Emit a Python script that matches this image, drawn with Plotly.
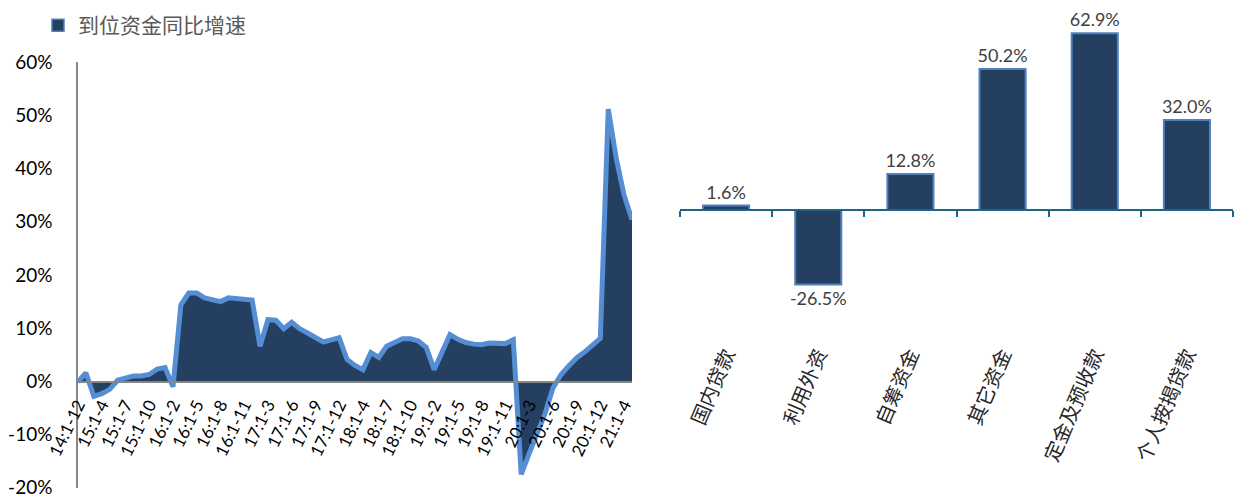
import plotly.graph_objects as go

# ---------------- data ----------------
months = [
    "14:1-12",
    "15:1-2", "15:1-3", "15:1-4", "15:1-5", "15:1-6", "15:1-7", "15:1-8", "15:1-9", "15:1-10", "15:1-11", "15:1-12",
    "16:1-2", "16:1-3", "16:1-4", "16:1-5", "16:1-6", "16:1-7", "16:1-8", "16:1-9", "16:1-10", "16:1-11", "16:1-12",
    "17:1-2", "17:1-3", "17:1-4", "17:1-5", "17:1-6", "17:1-7", "17:1-8", "17:1-9", "17:1-10", "17:1-11", "17:1-12",
    "18:1-2", "18:1-3", "18:1-4", "18:1-5", "18:1-6", "18:1-7", "18:1-8", "18:1-9", "18:1-10", "18:1-11", "18:1-12",
    "19:1-2", "19:1-3", "19:1-4", "19:1-5", "19:1-6", "19:1-7", "19:1-8", "19:1-9", "19:1-10", "19:1-11", "19:1-12",
    "20:1-2", "20:1-3", "20:1-4", "20:1-5", "20:1-6", "20:1-7", "20:1-8", "20:1-9", "20:1-10", "20:1-11", "20:1-12",
    "21:1-2", "21:1-3", "21:1-4", "21:1-5",
]
funds_yoy = [
    -0.1,
    1.6, -2.8, -2.3, -1.5, 0.2, 0.6, 1.0, 1.0, 1.3, 2.3, 2.6,
    -1.0, 14.4, 16.6, 16.6, 15.7, 15.4, 15.0, 15.7, 15.5, 15.3, 15.3,
    6.6, 11.6, 11.5, 9.9, 11.1, 9.9, 9.1, 8.2, 7.4, 7.8, 8.2,
    4.1, 3.0, 2.2, 5.4, 4.5, 6.6, 7.3, 8.0, 8.0, 7.6, 6.4,
    2.2, 5.5, 8.8, 7.9, 7.3, 7.0, 6.9, 7.2, 7.1, 7.1, 7.8,
    -17.5, -13.6, -10.0, -6.1, -1.3, 1.2, 2.9, 4.4, 5.5, 6.7, 8.1,
    51.2, 42.0, 35.0, 30.4,
]
tick_months = months[0:70:3]
series_name = "到位资金同比增速"
y_tick_vals = [-20, -10, 0, 10, 20, 30, 40, 50, 60]
y_tick_text = ["-20%", "-10%", "0%", "10%", "20%", "30%", "40%", "50%", "60%"]

sources = ["国内贷款", "利用外资", "自筹资金", "其它资金", "定金及预收款", "个人按揭贷款"]
source_yoy = [1.6, -26.5, 12.8, 50.2, 62.9, 32.0]

# ---------------- layout helpers (pixel -> paper) ----------------
W, H = 1234, 497
def py(p):
    return 1 - p / H
def px(p):
    return p / W

NAVY = "#243F60"
LINE_BLUE = "#558ED5"
BAR_EDGE = "#4F81BD"
AXIS_TEAL = "#1D6487"
NUM_FONT = "Lato, 'Liberation Sans', sans-serif"
CJK_FONT = "'Noto Sans CJK SC', sans-serif"

fig = go.Figure()

# left: area + line
fig.add_trace(go.Scatter(
    x=months, y=funds_yoy, mode="lines", fill="tozeroy",
    fillcolor=NAVY, line=dict(color=LINE_BLUE, width=5),
    xaxis="x", yaxis="y", showlegend=False, hoverinfo="x+y",
))
# legend entry
fig.add_trace(go.Bar(
    x=[None], y=[None], name=series_name,
    marker=dict(color=NAVY, line=dict(color=BAR_EDGE, width=1.5)),
    xaxis="x", yaxis="y", showlegend=True,
))

# right: bars
fig.add_trace(go.Bar(
    x=sources, y=source_yoy, xaxis="x2", yaxis="y2",
    marker=dict(color=NAVY, line=dict(color=BAR_EDGE, width=2)),
    text=[f"{v:.1f}%" for v in source_yoy], texttemplate="%{text}",
    textposition="outside", constraintext="none",
    textfont=dict(family=NUM_FONT, size=18, color="#404040"),
    cliponaxis=False, showlegend=False,
))
# helper for low-position category labels
fig.add_trace(go.Scatter(
    x=sources, y=[0] * len(sources), xaxis="x3", yaxis="y2",
    mode="markers", marker=dict(opacity=0), showlegend=False, hoverinfo="skip",
))

# left y range: 60% at y=62px, -20% at 488px
left_top, left_bot = 62, 488
zero_left = left_bot - (left_bot - left_top) * 20 / 80

# right y: zero at 210px, 2.81 px per %
zero_right = 210
ppp = 2.81
r_top, r_bot = 20, 348
r_max = (zero_right - r_top) / ppp
r_min = -(r_bot - zero_right) / ppp

fig.update_layout(
    width=W, height=H,
    margin=dict(l=0, r=0, t=0, b=0, autoexpand=False),
    paper_bgcolor="white", plot_bgcolor="rgba(0,0,0,0)",
    bargap=0.5,
    legend=dict(
        x=px(38), y=py(5), xanchor="left", yanchor="top",
        font=dict(family=CJK_FONT, size=21, color="#595959"),
        bgcolor="rgba(0,0,0,0)",
    ),
    xaxis=dict(
        domain=[px(78), px(632)], anchor="free", position=py(zero_left),
        type="category", range=[0, 70], automargin=False,
        tickmode="array", tickvals=tick_months, ticktext=tick_months,
        tickangle=-64, tickfont=dict(family=NUM_FONT, size=17, color="#000000"),
        ticklabelstandoff=6, ticklabeloverflow="allow",
        showline=True, linecolor="#868686", linewidth=1.5,
        ticks="", showgrid=False, zeroline=False,
    ),
    yaxis=dict(
        domain=[py(left_bot), py(left_top)], anchor="x", automargin=False,
        range=[-20.05, 60.05], tickmode="array", tickvals=y_tick_vals, ticktext=y_tick_text,
        tickfont=dict(family=NUM_FONT, size=19, color="#000000"),
        showline=True, linecolor="#868686", linewidth=1.5,
        ticks="", ticklabelstandoff=20, ticklabeloverflow="allow",
        showgrid=False, zeroline=False,
    ),
    xaxis2=dict(
        domain=[px(680), px(1233)], anchor="free", position=py(zero_right),
        type="category", categoryorder="array", categoryarray=sources,
        range=[-0.5, 5.5], automargin=False,
        showline=True, linecolor=AXIS_TEAL, linewidth=2,
        ticks="outside", tickson="boundaries", ticklen=6, tickwidth=2, tickcolor=AXIS_TEAL,
        showticklabels=False, showgrid=False, zeroline=False,
    ),
    xaxis3=dict(
        domain=[px(680), px(1233)], overlaying="x2", anchor="free", position=py(338),
        type="category", categoryorder="array", categoryarray=sources,
        range=[-0.5, 5.5], automargin=False,
        showline=False, ticks="", tickangle=-67,
        tickfont=dict(family=CJK_FONT, size=20, color="#262626"),
        ticklabeloverflow="allow",
        showgrid=False, zeroline=False,
    ),
    yaxis2=dict(
        domain=[py(r_bot), py(r_top)], anchor="x2", automargin=False,
        range=[r_min, r_max], visible=False,
    ),
)

fig.write_html("out.html")
